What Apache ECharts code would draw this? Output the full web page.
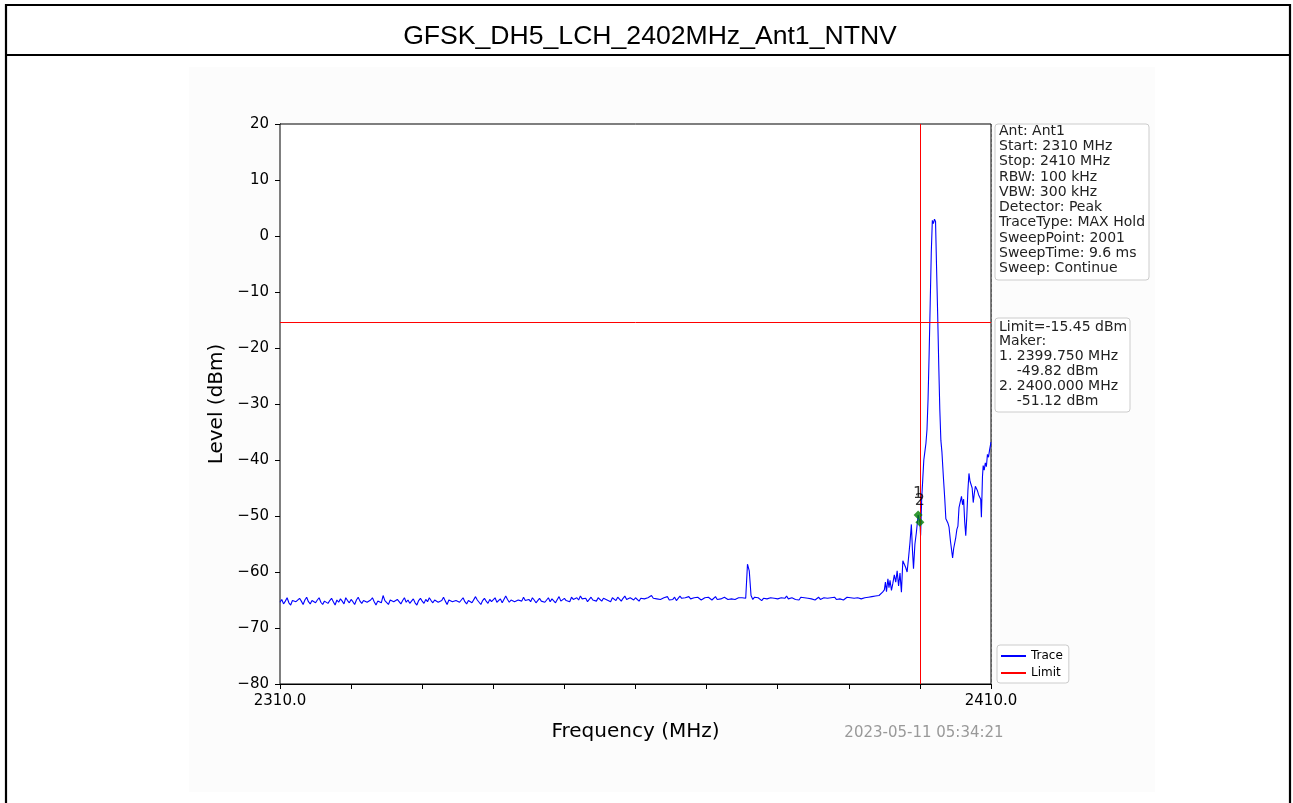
<!DOCTYPE html>
<html>
<head>
<meta charset="utf-8">
<script src="https://cdn.jsdelivr.net/npm/echarts@6/dist/echarts.min.js"></script>
<style>
html,body{margin:0;padding:0;background:#fff;}
#chart{width:1293px;height:803px;}
</style>
</head>
<body>
<div id="chart"></div>
<script>
// ---------- data ----------
const titleText = 'GFSK_DH5_LCH_2402MHz_Ant1_NTNV';
const xMin = 2310, xMax = 2410, xStep = 10;
const yMin = -80, yMax = 20, yStep = 10;
const limitLevel = -15.45;
const markerLineFreq = 2400;

// noise floor sweep: 2310.00 .. 2394.75 MHz every 0.25 MHz
const noiseStart = 2310, noiseStep = 0.25;
const noiseLevels = [
 -65.4,-64.9,-65.7,-65.2,-64.6,-65.5,-65.9,-65.1,-64.8,-65.3,-65.6,-64.7,-65.2,-65.8,-65.0,-64.5,-65.3,-65.7,-65.1,-64.9,
 -65.5,-65.0,-64.6,-65.4,-65.8,-65.2,-64.9,-65.6,-65.1,-64.7,-65.3,-65.9,-65.0,-65.4,-64.8,-65.2,-65.7,-64.6,-65.1,-65.5,
 -64.9,-65.3,-65.8,-65.0,-64.5,-65.2,-65.6,-65.1,-64.8,-65.4,-65.7,-65.0,-64.6,-65.3,-65.9,-65.2,-64.9,-65.5,-64.2,-65.1,
 -65.4,-65.8,-65.0,-64.7,-65.3,-65.6,-64.9,-65.2,-65.7,-65.1,-64.6,-65.4,-65.0,-65.6,-65.2,-64.8,-65.5,-65.9,-65.1,-64.7,
 -65.2,-65.6,-64.9,-65.3,-64.6,-65.1,-65.5,-65.0,-64.8,-65.4,-65.7,-65.1,-64.5,-65.2,-65.8,-65.0,-64.7,-65.3,-65.6,-65.1,
 -64.8,-65.4,-65.0,-64.6,-65.3,-65.7,-65.1,-64.9,-65.5,-65.2,-64.4,-65.0,-65.3,-65.8,-65.1,-64.7,-65.2,-65.6,-64.9,-65.3,
 -65.0,-64.6,-65.4,-65.1,-64.8,-65.5,-65.2,-64.3,-64.9,-65.4,-65.0,-64.7,-65.3,-65.6,-65.0,-64.8,-65.2,-64.5,-65.1,-65.4,
 -64.9,-65.3,-64.6,-65.0,-65.5,-65.1,-64.7,-65.2,-64.9,-65.4,-65.0,-64.6,-65.3,-64.8,-65.1,-65.5,-64.9,-64.4,-65.2,-65.0,
 -64.7,-65.1,-64.8,-65.3,-64.5,-64.9,-65.2,-64.6,-65.0,-64.3,-64.8,-65.1,-64.7,-65.3,-64.9,-64.5,-65.0,-64.8,-65.2,-64.6,
 -64.9,-65.2,-64.7,-64.4,-65.0,-64.8,-65.3,-64.6,-64.9,-65.1,-64.5,-64.8,-65.2,-64.7,-64.3,-64.9,-65.1,-64.6,-64.8,-65.0,
 -64.6,-64.9,-65.2,-64.7,-64.4,-64.8,-65.1,-64.6,-64.9,-64.2,-64.7,-65.0,-64.8,-64.5,-64.9,-65.2,-64.6,-64.8,-64.4,-65.0,
 -64.7,-64.9,-64.5,-65.1,-64.8,-64.3,-64.7,-65.0,-64.6,-64.9,-64.4,-64.8,-65.1,-64.6,-64.9,-64.5,-64.7,-65.0,-64.8,-64.6,
 -64.9,-64.5,-64.8,-65.0,-64.7,-64.4,-64.9,-64.6,-64.8,-65.1,-64.5,-64.7,-64.9,-64.6,-64.8,-64.5,-64.9,-64.7,-64.6,-64.8,
 -64.6,-64.8,-64.7,-58.6,-59.8,-64.2,-64.9,-64.5,-64.8,-64.6,-64.9,-65.1,-64.7,-64.4,-64.8,-65.0,-64.6,-64.9,-64.7,-64.5,
 -64.8,-65.0,-64.6,-64.9,-64.7,-64.3,-64.8,-65.1,-64.6,-64.4,-64.9,-64.7,-65.0,-64.5,-64.8,-64.6,-64.9,-64.7,-64.4,-64.8,
 -64.6,-65.0,-64.7,-64.5,-64.9,-64.8,-64.6,-64.9,-64.7,-65.0,-64.6,-64.8,-64.5,-64.9,-64.7,-64.8,-64.6,-65.0,-64.7,-64.5,
 -64.8,-64.6,-64.9,-64.7,-64.8,-64.6,-64.5,-64.8,-64.7,-64.6,-64.9,-64.5,-64.7,-64.4,-64.6,-64.3,-64.5,-64.2,-64.0,-63.6
];

// signal region
const signalFreqs = [
 2395.0,2395.15,2395.3,2395.5,2395.65,2395.8,2396.0,2396.2,2396.4,2396.6,2396.8,2397.0,2397.2,2397.4,2397.6,2397.8,
 2398.0,2398.2,2398.4,2398.6,2398.8,2398.95,2399.1,2399.3,2399.5,2399.75,2400.0,2400.1,2400.25,2400.4,2400.55,2400.7,
 2400.85,2401.0,2401.15,2401.3,2401.45,2401.6,2401.75,2401.9,2402.05,2402.2,2402.35,2402.5,2402.65,2402.8,2402.95,2403.1,
 2403.3,2403.5,2403.65,2403.8,2403.95,2404.1,2404.3,2404.5,2404.6,2404.75,2404.9,2405.05,2405.2,2405.35,2405.5,2405.65,
 2405.85,2406.0,2406.15,2406.3,2406.45,2406.6,2406.75,2406.9,2407.05,2407.2,2407.35,2407.5,2407.65,2407.8,2407.95,2408.1,
 2408.25,2408.4,2408.55,2408.65,2408.8,2408.9,2409.05,2409.2,2409.35,2409.5,2409.65,2409.8,2409.9,2410.0
];
const signalLevels = [
 -63.2,-61.8,-63.5,-61.2,-62.8,-61.5,-63.3,-62.0,-60.5,-61.8,-59.8,-62.5,-60.2,-63.6,-58.0,-57.8,
 -59.2,-60.0,-57.5,-54.8,-51.5,-56.0,-59.4,-55.0,-53.0,-49.82,-51.12,-53.5,-47.0,-43.5,-40.0,-38.5,
 -37.0,-34.5,-29.0,-21.0,-12.0,-3.0,2.8,2.2,3.0,2.6,-6.0,-14.0,-23.0,-31.0,-36.5,-38.6,
 -43.0,-47.0,-50.5,-50.8,-51.3,-52.0,-54.5,-56.5,-57.5,-55.8,-55.5,-53.8,-52.4,-51.8,-48.5,-48.8,
 -46.5,-48.0,-47.0,-51.0,-53.5,-50.0,-45.5,-42.4,-43.8,-43.5,-45.0,-47.6,-46.0,-44.7,-45.0,-45.5,
 -46.2,-46.0,-47.0,-50.2,-43.0,-41.0,-41.8,-40.5,-41.2,-39.0,-39.5,-38.2,-38.0,-36.8
];

const markerNames = ['1', '2'];
const markerFreqs = [2399.75, 2400.0];
const markerLevels = [-49.82, -51.12];

const infoLines = ['Ant: Ant1','Start: 2310 MHz','Stop: 2410 MHz','RBW: 100 kHz','VBW: 300 kHz',
  'Detector: Peak','TraceType: MAX Hold','SweepPoint: 2001','SweepTime: 9.6 ms','Sweep: Continue'];
const markerLines = ['Limit=-15.45 dBm','Maker:','1. 2399.750 MHz','    -49.82 dBm','2. 2400.000 MHz','    -51.12 dBm'];
const timestamp = '2023-05-11 05:34:21';

// ---------- build ----------
const traceData = noiseLevels.map((v, i) => [noiseStart + i * noiseStep, v])
  .concat(signalFreqs.map((f, i) => [f, signalLevels[i]]));
const limitData = [[xMin, limitLevel], [xMax, limitLevel]];
const markerData = markerFreqs.map((f, i) => ({ value: [f, markerLevels[i]], name: markerNames[i] }));

const chart = echarts.init(document.getElementById('chart'), null, { renderer: 'canvas' });
const FONT = 'DejaVu Sans';

function textBlock(x, yCenter, lines, lh) {
  return lines.map((t, i) => ({
    type: 'text', x: x, y: yCenter + i * lh, z: 101,
    style: { text: t, fill: '#222', font: '14px "' + FONT + '"', textVerticalAlign: 'middle' }
  }));
}

const option = {
  animation: false,
  backgroundColor: '#ffffff',
  grid: { left: 280, top: 124, right: 302, bottom: 119, show: true, borderColor: '#000', borderWidth: 1, backgroundColor: '#ffffff', z: 3 },
  xAxis: {
    type: 'value', min: xMin, max: xMax, interval: xStep,
    name: 'Frequency (MHz)', nameLocation: 'middle', nameGap: 38,
    nameTextStyle: { fontFamily: FONT, fontSize: 20, color: '#000' },
    axisLine: { show: true, onZero: false, lineStyle: { color: '#000', width: 1 } },
    axisTick: { show: true, length: 5, lineStyle: { color: '#000' } },
    axisLabel: { fontFamily: FONT, fontSize: 15, color: '#000', margin: 10, showMinLabel: true, showMaxLabel: true,
      formatter: v => (v === xMin || v === xMax) ? v.toFixed(1) : '' },
    splitLine: { show: true, lineStyle: { color: '#b0b0b0', type: [3, 2], width: 0.8 } }
  },
  yAxis: {
    type: 'value', min: yMin, max: yMax, interval: yStep,
    name: 'Level (dBm)', nameLocation: 'middle', nameGap: 51, nameRotate: 90,
    nameTextStyle: { fontFamily: FONT, fontSize: 20, color: '#000' },
    axisLine: { show: true, onZero: false, lineStyle: { color: '#000', width: 1 } },
    axisTick: { show: true, length: 5, lineStyle: { color: '#000' } },
    axisLabel: { fontFamily: FONT, fontSize: 15, color: '#000', margin: 11,
      formatter: v => String(v).replace('-', '\u2212') },
    splitLine: { show: true, lineStyle: { color: '#b0b0b0', type: [3, 2], width: 0.8 } }
  },
  legend: {
    orient: 'vertical', left: 997, top: 645,
    itemWidth: 25, itemHeight: 2, itemGap: 5,
    padding: [5, 6, 4, 4],
    borderColor: '#cccccc', borderWidth: 1, borderRadius: 3, backgroundColor: '#fff',
    textStyle: { fontFamily: FONT, fontSize: 12, color: '#000' },
    data: [
      { name: 'Trace', icon: 'rect' },
      { name: 'Limit', icon: 'rect' }
    ]
  },
  series: [
    {
      name: 'Trace', type: 'line', data: traceData, showSymbol: false, symbol: 'none',
      lineStyle: { color: '#0000ff', width: 1.1 }, itemStyle: { color: '#0000ff' }, z: 3,
      markLine: {
        silent: true, symbol: 'none', label: { show: false },
        lineStyle: { color: '#ff0000', width: 1, type: 'solid' },
        data: [{ xAxis: markerLineFreq }]
      }
    },
    {
      name: 'Limit', type: 'line', data: limitData, showSymbol: false, symbol: 'none',
      lineStyle: { color: '#ff0000', width: 1 }, itemStyle: { color: '#ff0000' }, z: 4
    },
    {
      name: 'Markers', type: 'scatter', data: markerData, symbol: 'diamond', symbolSize: 9,
      itemStyle: { color: '#008000' }, z: 6,
      label: { show: true, position: 'top', distance: 9, formatter: p => p.name,
        fontFamily: FONT, fontSize: 16, color: '#000' }
    }
  ],
  graphic: [
    { type: 'rect', z: -10, shape: { x: 189, y: 67, width: 966, height: 725 }, style: { fill: '#fcfcfc' } },
    { type: 'rect', z: 100, shape: { x: 6, y: 5, width: 1284, height: 900 }, style: { fill: 'none', stroke: '#000', lineWidth: 2.2 } },
    { type: 'line', z: 100, shape: { x1: 6, y1: 55, x2: 1290, y2: 55 }, style: { stroke: '#000', lineWidth: 2.2 } },
    { type: 'text', z: 100, x: 650, y: 37, style: { text: titleText, fill: '#000', font: '26.6px "Liberation Sans", Arial', textAlign: 'center', textVerticalAlign: 'middle' } },
    { type: 'rect', z: 100, shape: { x: 995, y: 124, width: 154, height: 156, r: 3 }, style: { fill: '#fff', stroke: '#cccccc', lineWidth: 1 } },
    ...textBlock(999, 131, infoLines, 15.3),
    { type: 'rect', z: 100, shape: { x: 995, y: 318, width: 135, height: 94, r: 3 }, style: { fill: '#fff', stroke: '#cccccc', lineWidth: 1 } },
    ...textBlock(999, 327, markerLines, 14.8),
    { type: 'text', z: 100, x: 924, y: 733, style: { text: timestamp, fill: '#999999', font: '15px "' + FONT + '"', textAlign: 'center', textVerticalAlign: 'middle' } }
  ]
};
chart.setOption(option);
</script>
</body>
</html>
